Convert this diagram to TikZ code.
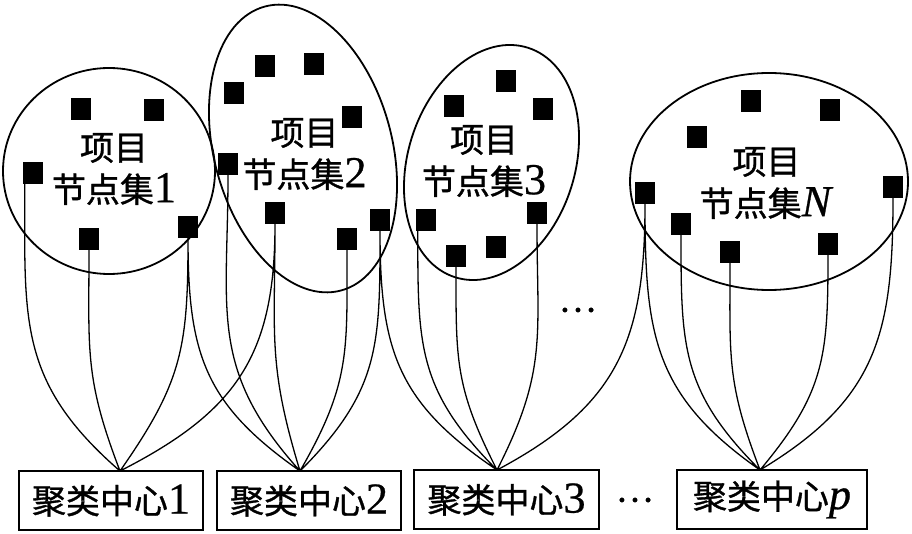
\documentclass[tikz,border=0pt]{standalone}
\usepackage{fontspec}
\setmainfont{Liberation Serif}[Scale=1.3,FakeBold=0.6]
\newfontfamily\cjk{Noto Sans CJK SC}[FakeBold=1]
\begin{document}
\begin{tikzpicture}[x=1pt,y=1pt,
  sqr/.style={fill=black,inner sep=0pt,minimum width=20pt,minimum height=22pt},
  set/.style={line width=1.8pt},
  setname/.style={align=center,inner sep=0pt,font=\fontsize{34}{42}\selectfont},
  center/.style={draw,line width=2pt,inner sep=0pt,minimum width=184pt,minimum height=59pt,font=\fontsize{34}{40}\selectfont},
  dots/.style={inner sep=0pt,font=\fontsize{30}{30}\selectfont},
  link/.style={line width=1.3pt,out=-90,looseness=1.15}]
\useasboundingbox (0,0) rectangle (912,533);
% item node sets
\draw[set] (109,362) ellipse[x radius=106pt,y radius=103pt];
\draw[set,rotate around={15:(303,384.5)}] (303,384.5) ellipse[x radius=89pt,y radius=147pt];
\draw[set,rotate around={-17.6:(491.5,370.5)}] (491.5,370.5) ellipse[x radius=83.5pt,y radius=120.4pt];
\draw[set] (769,351.5) ellipse[x radius=139pt,y radius=108.5pt];
\node[setname] (t1) at (114,364) {{\cjk 项目}\\{\cjk 节点集}1};
\node[setname] (t2) at (304.5,379) {{\cjk 项目}\\{\cjk 节点集}2};
\node[setname] (t3) at (484,372) {{\cjk 项目}\\{\cjk 节点集}3};
\node[setname] (tN) at (766.5,350) {{\cjk 项目}\\{\cjk 节点集}\textit{N}};
\node[sqr] (s1a) at (81,424) {};
\node[sqr] (s1b) at (154,423) {};
\node[sqr] (s1c) at (33,360) {};
\node[sqr] (s1d) at (89,294) {};
\node[sqr] (s1e) at (188,306) {};
\node[sqr] (s2a) at (265,467) {};
\node[sqr] (s2b) at (314,469) {};
\node[sqr] (s2c) at (234,440) {};
\node[sqr] (s2d) at (352,416) {};
\node[sqr] (s2e) at (228,369) {};
\node[sqr] (s2f) at (275,320) {};
\node[sqr] (s2g) at (347,294) {};
\node[sqr] (s2h) at (380,313) {};
\node[sqr] (s3a) at (506,452) {};
\node[sqr] (s3b) at (454,427) {};
\node[sqr] (s3c) at (543,424) {};
\node[sqr] (s3d) at (426,313) {};
\node[sqr] (s3e) at (537,320) {};
\node[sqr] (s3f) at (496,286) {};
\node[sqr] (s3g) at (456,277) {};
\node[sqr] (sNa) at (751,432) {};
\node[sqr] (sNb) at (830,423) {};
\node[sqr] (sNc) at (697,396) {};
\node[sqr] (sNd) at (893,346) {};
\node[sqr] (sNe) at (645,340) {};
\node[sqr] (sNf) at (681,309) {};
\node[sqr] (sNg) at (730,281) {};
\node[sqr] (sNh) at (828,289) {};
\node[dots] (d1) at (578,223) {…};
% cluster centres
\node[center] (c1) at (111,32.5) {{\cjk 聚类中心}1};
\node[center] (c2) at (309,32.5) {{\cjk 聚类中心}2};
\node[center,minimum width=185pt] (c3) at (506.5,33.5) {{\cjk 聚类中心}3};
\node[center,minimum width=190pt] (cp) at (772,33.5) {{\cjk 聚类中心}\textit{p}};
\node[dots] (d2) at (635,33) {…};
\coordinate (h1) at (120,62);
\coordinate (h2) at (300,62);
\coordinate (h3) at (497,63);
\coordinate (hp) at (760,63);
\draw[link]
([xshift=2pt]s1c.south west) to[in=139] (h1) (s1d) to[in=111] (h1)
(s1e) to[in=55] (h1) (s2f) to[in=27] (h1)
(s1e) to[in=145] (h2) (s2e) to[in=132] (h2) (s2f) to[in=107] (h2)
(s2g) to[in=60] (h2) (s2h) to[in=45] (h2)
(s2h) to[in=146] (h3) ([xshift=2pt]s3d.south west) to[in=135] (h3)
(s3g) to[in=117] (h3) (s3e) to[in=63] (h3) (sNe) to[in=28] (h3)
(sNe) to[in=145] (hp) (sNf) to[in=135] (hp) (sNg) to[in=111] (hp)
(sNh) to[in=50] (hp) (sNd) to[in=31] (hp)
;
\end{tikzpicture}
\end{document}
